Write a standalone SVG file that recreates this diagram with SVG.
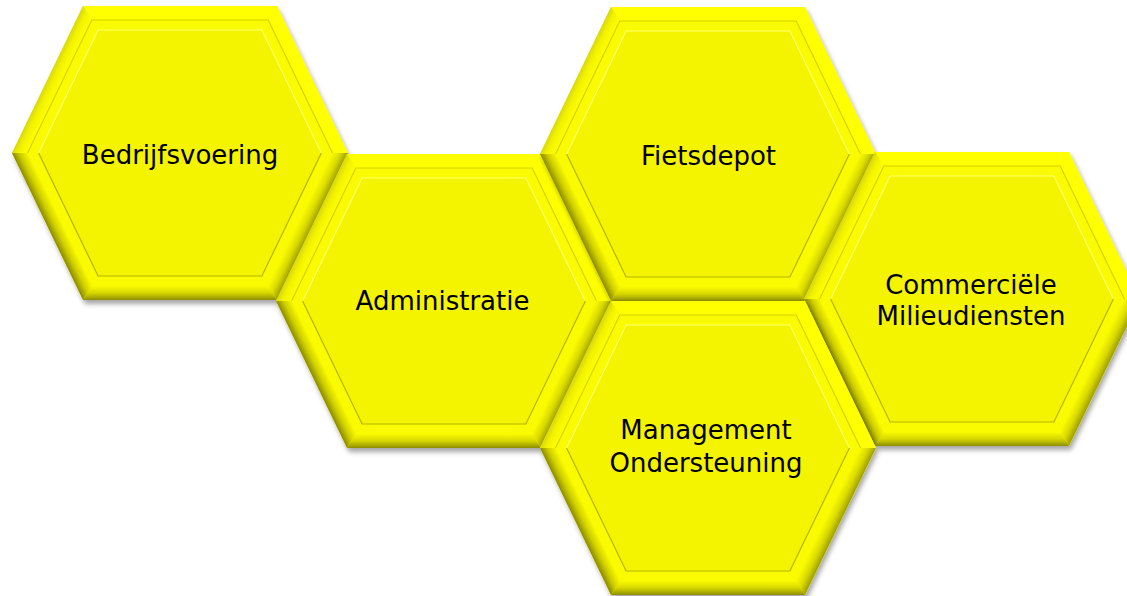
<svg xmlns="http://www.w3.org/2000/svg" xmlns:xlink="http://www.w3.org/1999/xlink" width="1127" height="596" viewBox="0 0 1127 596">
  <style>
    .lbl { font-family: "DejaVu Sans", Verdana, "Liberation Sans", sans-serif; font-size: 26px; fill: #000000; text-anchor: middle; }
  </style>
  <defs>
    <filter id="shadow" x="-10%" y="-10%" width="120%" height="125%">
      <feDropShadow dx="2" dy="4" stdDeviation="2.5" flood-color="#000000" flood-opacity="0.35"/>
    </filter>
    <linearGradient id="gBottom" gradientUnits="userSpaceOnUse" x1="0" y1="133" x2="0" y2="147">
      <stop offset="0" stop-color="#FAFA00"/>
      <stop offset="0.5" stop-color="#D6D600"/>
      <stop offset="1" stop-color="#8E8E00"/>
    </linearGradient>
    <linearGradient id="gLowerLeft" gradientUnits="userSpaceOnUse" x1="-119.9" y1="67.4" x2="-132.5" y2="73.5">
      <stop offset="0" stop-color="#F6F600"/>
      <stop offset="0.5" stop-color="#CFCF00"/>
      <stop offset="1" stop-color="#8A8A00"/>
    </linearGradient>
    <linearGradient id="gLowerRight" gradientUnits="userSpaceOnUse" x1="119.9" y1="67.4" x2="132.5" y2="73.5">
      <stop offset="0" stop-color="#F8F800"/>
      <stop offset="0.5" stop-color="#DADA00"/>
      <stop offset="1" stop-color="#9E9E00"/>
    </linearGradient>
    <linearGradient id="gUpperLeft" gradientUnits="userSpaceOnUse" x1="-119.9" y1="-67.4" x2="-132.5" y2="-73.5">
      <stop offset="0" stop-color="#FFFF00"/>
      <stop offset="0.6" stop-color="#F2F200"/>
      <stop offset="1" stop-color="#D8D810"/>
    </linearGradient>
    <g id="hexShape">
      <polygon points="-168,0 -97,-147 97,-147 168,0 97,147 -97,147" fill="#F4F400" filter="url(#shadow)"/>
      <!-- outer bevel ring -->
      <polygon points="-97,-147 97,-147 88.2,-133 -88.2,-133" fill="#FFFF00"/>
      <polygon points="97,-147 168,0 152.5,0 88.2,-133" fill="#FFFF00"/>
      <polygon points="168,0 97,147 88.2,133 152.5,0" fill="url(#gLowerRight)"/>
      <polygon points="97,147 -97,147 -88.2,133 88.2,133" fill="url(#gBottom)"/>
      <polygon points="-97,147 -168,0 -152.5,0 -88.2,133" fill="url(#gLowerLeft)"/>
      <polygon points="-168,0 -97,-147 -88.2,-133 -152.5,0" fill="url(#gUpperLeft)"/>
      <!-- middle band -->
      <polygon points="-152.5,0 -88.2,-133 88.2,-133 152.5,0 88.2,133 -88.2,133" fill="#FAFA00"/>
      <polyline points="-152.5,0 -88.2,-133 88.2,-133 152.5,0" fill="none" stroke="#D2D200" stroke-width="1.2"/>
      <!-- inner face -->
      <polygon points="-141.4,0 -81.9,-123 81.9,-123 141.4,0 81.9,123 -81.9,123" fill="#F4F400"/>
      <polyline points="-141.4,0 -81.9,-123 81.9,-123 141.4,0" fill="none" stroke="#FFFF70" stroke-width="1.2"/>
      <polyline points="141.4,0 81.9,123 -81.9,123 -141.4,0" fill="none" stroke="#B4B400" stroke-width="1.2"/>
    </g>
  </defs>

  <g id="connectors"/>

  <g id="node-bedrijfsvoering" transform="translate(180,153)">
    <use href="#hexShape" xlink:href="#hexShape"/>
    <text class="lbl" x="0" y="11">Bedrijfsvoering</text>
  </g>

  <g id="node-administratie" transform="translate(444,301)">
    <use href="#hexShape" xlink:href="#hexShape"/>
    <text class="lbl" x="-1.5" y="9">Administratie</text>
  </g>

  <g id="node-fietsdepot" transform="translate(708,154)">
    <use href="#hexShape" xlink:href="#hexShape"/>
    <text class="lbl" x="0.5" y="11">Fietsdepot</text>
  </g>

  <g id="node-commerciele" transform="translate(972,299)">
    <use href="#hexShape" xlink:href="#hexShape"/>
    <text class="lbl" x="-1" y="-5">Commerciële</text>
    <text class="lbl" x="-1" y="26">Milieudiensten</text>
  </g>

  <g id="node-management" transform="translate(708,448)">
    <use href="#hexShape" xlink:href="#hexShape"/>
    <text class="lbl" x="-2" y="-9">Management</text>
    <text class="lbl" x="-2" y="23.5">Ondersteuning</text>
  </g>
</svg>
